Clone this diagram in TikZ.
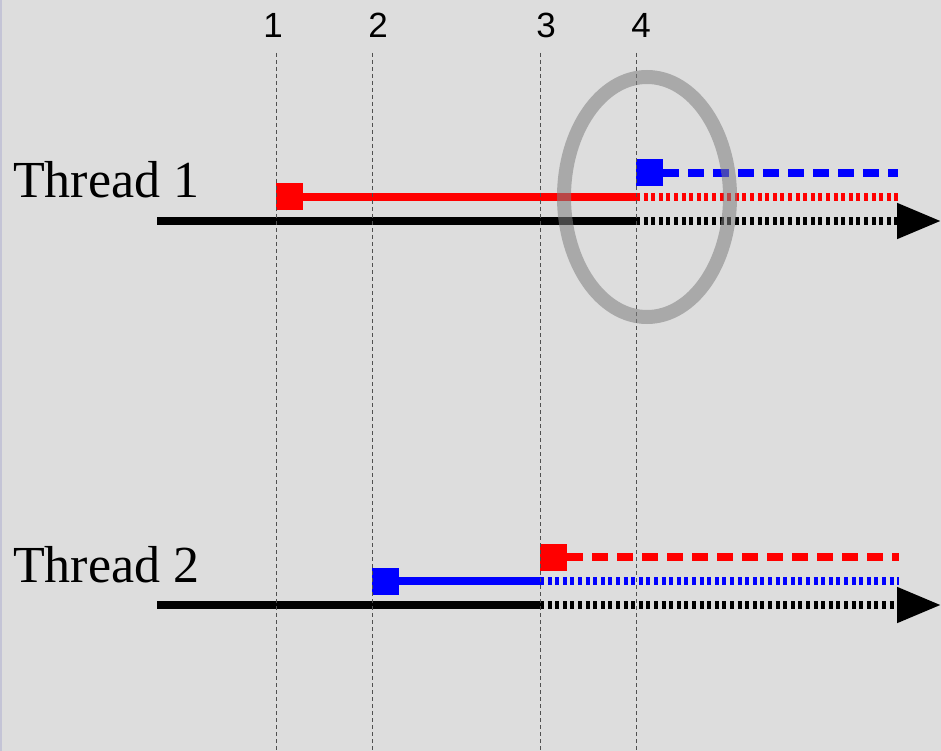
\documentclass[tikz,border=0pt]{standalone}
\usepackage{fontspec}
\setmainfont{Liberation Serif}
\newfontfamily\numfont{Liberation Sans}
\usetikzlibrary{arrows.meta}

\definecolor{panel}{HTML}{DDDDDD}
\definecolor{edge}{HTML}{C4C4D6}
\definecolor{guidegray}{HTML}{505050}

\tikzset{
  axisline/.style={line width=8pt},
  solidpart/.style={line width=8pt},
  dottedpart/.style={line width=8pt, dash pattern=on 4pt off 3.6pt},
  dashedpart/.style={line width=8pt, dash pattern=on 16pt off 9pt},
  arrowend/.style={-{Triangle[length=44pt,width=34pt]}},
  marker/.style={rectangle, minimum size=27pt, inner sep=0pt, outer sep=0pt, fill=#1},
  guide/.style={draw=guidegray, line width=1pt, dash pattern=on 4pt off 3pt},
  steplabel/.style={font=\numfont\fontsize{35}{35}\selectfont, anchor=base, inner sep=0pt},
  threadlabel/.style={font=\fontsize{52}{52}\selectfont, anchor=base west, inner sep=0pt},
  focusring/.style={draw=gray, opacity=0.55, line width=14pt}
}

\begin{document}
\begin{tikzpicture}[x=1pt,y=-1pt]
  % canvas
  \fill[panel] (0,0) rectangle (941,751);
  \useasboundingbox (0,0) rectangle (941,751);
  \draw[edge, line width=2pt] (1,0) -- (1,751);

  % thread labels
  \node[threadlabel] (th1) at (13,198) {Thread 1};
  \node[threadlabel] (th2) at (13,582) {Thread 2};

  % ---- Thread 1 ----
  \coordinate (a1) at (157,221);
  \coordinate (a1m) at (636,221);
  \coordinate (a1e) at (941,221);
  \draw[axisline] (a1) -- (a1m);
  \draw[dottedpart, arrowend] (a1m) -- (a1e);

  \node[marker=red] (r1) at (289.5,197) {};
  \coordinate (r1m) at (636,197);
  \coordinate (r1e) at (899,197);
  \draw[red, solidpart] (r1.center) -- (r1m);
  \draw[red, dottedpart] (r1m) -- (r1e);

  \node[marker=blue] (b1) at (649.5,173) {};
  \coordinate (b1e) at (898,173);
  \draw[blue, dashedpart] (b1.east) -- (b1e);

  % ---- Thread 2 ----
  \coordinate (a2) at (157,605);
  \coordinate (a2m) at (540,605);
  \coordinate (a2e) at (941,605);
  \draw[axisline] (a2) -- (a2m);
  \draw[dottedpart, arrowend] (a2m) -- (a2e);

  \node[marker=blue] (b2) at (385.5,581) {};
  \coordinate (b2m) at (540,581);
  \coordinate (b2e) at (899,581);
  \draw[blue, solidpart] (b2.center) -- (b2m);
  \draw[blue, dottedpart] (b2m) -- (b2e);

  \node[marker=red] (r2) at (553.5,557) {};
  \coordinate (r2e) at (899,557);
  \draw[red, dashedpart] (r2.east) -- (r2e);

  % ---- time steps ----
  \foreach \n/\gx/\lx in {1/276/273, 2/372/378, 3/540/546, 4/636/641}{
    \node[steplabel] (s\n) at (\lx,38) {\n};
    \coordinate (g\n top) at (\gx,53);
    \coordinate (g\n bot) at (\gx,751);
    \draw[guide] (g\n top) -- (g\n bot);
  }

  % highlight ring
  \node[draw=none, inner sep=0pt] (ring) at (647,197) {};
  \draw[focusring] (ring) ellipse [x radius=83, y radius=120];
\end{tikzpicture}
\end{document}
